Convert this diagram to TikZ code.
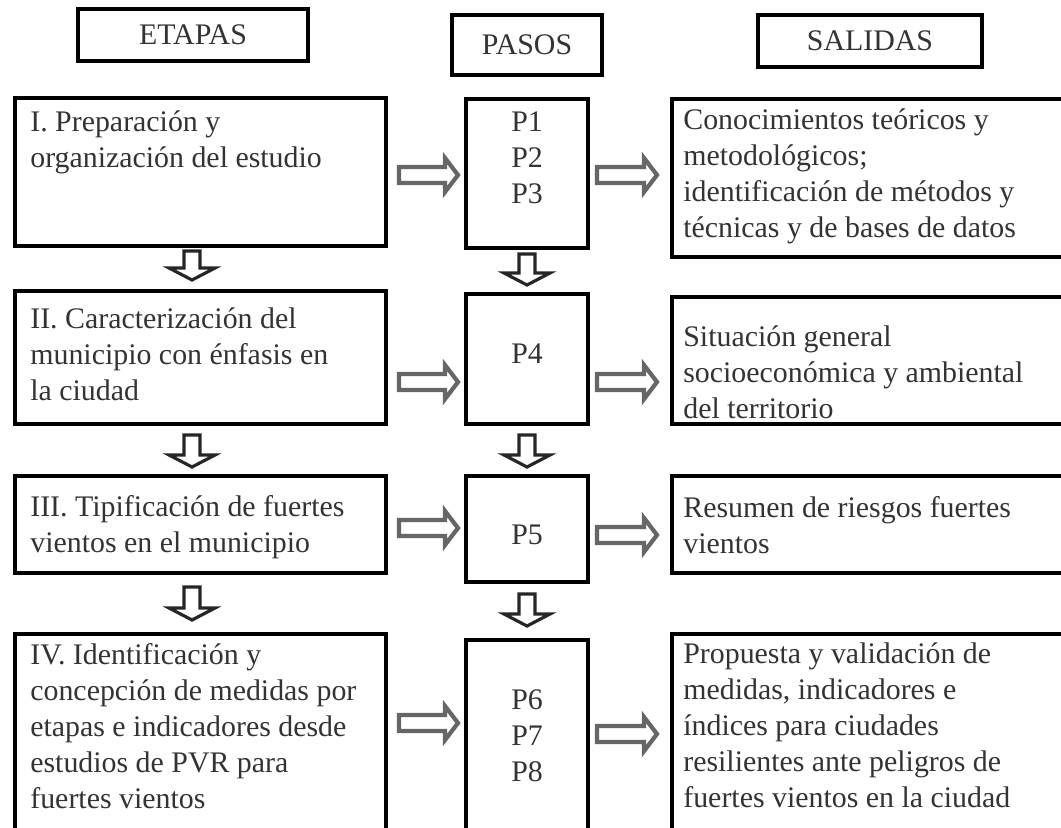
\documentclass[tikz,border=0pt]{standalone}
\usepackage{fontspec}
\setmainfont{Liberation Serif}
\usetikzlibrary{calc}

\newcommand{\letra}{\fontsize{17pt}{20.5pt}\selectfont}

\tikzset{
  cabecera/.style={draw, line width=2.3pt, inner sep=0pt, font=\letra, text=black!80},
  caja/.style={draw, line width=2.3pt, anchor=north west, inner sep=0pt},
  texto/.style={anchor=north west, align=left, inner sep=0pt, font=\letra, text=black!80},
  paso/.style={anchor=north, align=center, inner sep=0pt, font=\letra, text=black!80},
  derecha/.style={draw=black!60, line width=2.4pt, fill=white, line join=miter,
    to path={let \p1=(\tikztostart), \p2=(\tikztotarget) in
      (\x1,\y1+0.16cm) -- (\x2-0.26cm,\y1+0.16cm) -- (\x2-0.26cm,\y1+0.34cm) -- (\x2,\y1)
      -- (\x2-0.26cm,\y1-0.34cm) -- (\x2-0.26cm,\y1-0.16cm) -- (\x1,\y1-0.16cm) -- cycle}},
  abajo/.style={draw=black!85, line width=1.8pt, fill=white, line join=miter,
    to path={let \p1=(\tikztostart), \p2=(\tikztotarget) in
      (\x1-0.16cm,\y1) -- (\x1-0.16cm,\y2+0.24cm) -- (\x1-0.46cm,\y2+0.24cm) -- (\x1,\y2)
      -- (\x1+0.46cm,\y2+0.24cm) -- (\x1+0.16cm,\y2+0.24cm) -- (\x1+0.16cm,\y1) -- cycle}}
}

\begin{document}
\begin{tikzpicture}
  \useasboundingbox (0,0) rectangle (21.22,-16.54);
  \clip (0,0) rectangle (21.22,-16.54);

  % cabeceras
  \node[cabecera, minimum width=4.6cm, minimum height=1.04cm] (etapas) at (3.86,-0.70) {ETAPAS};
  \node[cabecera, minimum width=3cm, minimum height=1.2cm] (pasos) at (10.54,-0.90) {PASOS};
  \node[cabecera, minimum width=4.48cm, minimum height=1.04cm] (salidas) at (17.40,-0.82) {SALIDAS};

  % etapas
  \node[caja, minimum width=7.42cm, minimum height=2.96cm] (e1) at (0.26,-1.92) {};
  \node[caja, minimum width=7.42cm, minimum height=2.66cm] (e2) at (0.26,-5.78) {};
  \node[caja, minimum width=7.42cm, minimum height=1.94cm] (e3) at (0.26,-9.48) {};
  \node[caja, minimum width=7.42cm, minimum height=5cm] (e4) at (0.26,-12.64) {};
  \node[texto] (te1) at ([shift={(0.34,-0.28)}]e1.north west) {I. Preparación y\\organización del estudio};
  \node[texto] (te2) at ([shift={(0.34,-0.36)}]e2.north west) {II. Caracterización del\\municipio con énfasis en\\la ciudad};
  \node[texto] (te3) at ([shift={(0.34,-0.42)}]e3.north west) {III. Tipificación de fuertes\\vientos en el municipio};
  \node[texto] (te4) at ([shift={(0.34,-0.22)}]e4.north west) {IV. Identificación y\\concepción de medidas por\\etapas e indicadores desde\\estudios de PVR para\\fuertes vientos};

  % pasos
  \node[caja, minimum width=2.44cm, minimum height=2.98cm] (p1) at (9.28,-1.94) {};
  \node[caja, minimum width=2.44cm, minimum height=2.6cm] (p2) at (9.28,-5.84) {};
  \node[caja, minimum width=2.44cm, minimum height=2.12cm] (p3) at (9.28,-9.48) {};
  \node[caja, minimum width=2.44cm, minimum height=5cm] (p4) at (9.28,-12.76) {};
  \node[paso] (tp1) at ([yshift=-0.28cm]p1.north) {P1\\P2\\P3};
  \node[paso] (tp2) at ([yshift=-1.02cm]p2.north) {P4};
  \node[paso] (tp3) at ([yshift=-1.02cm]p3.north) {P5};
  \node[paso] (tp4) at ([yshift=-1.02cm]p4.north) {P6\\P7\\P8};

  % salidas
  \node[caja, minimum width=9cm, minimum height=3.16cm] (s1) at (13.40,-1.94) {};
  \node[caja, minimum width=9cm, minimum height=2.54cm] (s2) at (13.40,-5.90) {};
  \node[caja, minimum width=9cm, minimum height=1.94cm] (s3) at (13.40,-9.48) {};
  \node[caja, minimum width=9cm, minimum height=5cm] (s4) at (13.40,-12.64) {};
  \node[texto] (ts1) at ([shift={(0.26,-0.22)}]s1.north west) {Conocimientos teóricos y\\metodológicos;\\identificación de métodos y\\técnicas y de bases de datos};
  \node[texto] (ts2) at ([shift={(0.26,-0.6)}]s2.north west) {Situación general\\socioeconómica y ambiental\\del territorio};
  \node[texto] (ts3) at ([shift={(0.26,-0.44)}]s3.north west) {Resumen de riesgos fuertes\\vientos};
  \node[texto] (ts4) at ([shift={(0.26,-0.2)}]s4.north west) {Propuesta y validación de\\medidas, indicadores e\\índices para ciudades\\resilientes ante peligros de\\fuertes vientos en la ciudad};

  % flechas etapas -> pasos -> salidas
  \draw[derecha] ([xshift=0.22cm,yshift=-1.58cm]e1.north east) to ([xshift=-0.12cm]p1.west);
  \draw[derecha] ([xshift=0.14cm,yshift=-1.56cm]p1.north east) to ([xshift=-0.26cm]s1.west);
  \draw[derecha] ([xshift=0.22cm,yshift=-1.86cm]e2.north east) to ([xshift=-0.12cm]p2.west);
  \draw[derecha] ([xshift=0.14cm,yshift=-1.80cm]p2.north east) to ([xshift=-0.26cm]s2.west);
  \draw[derecha] ([xshift=0.22cm,yshift=-1.08cm]e3.north east) to ([xshift=-0.12cm]p3.west);
  \draw[derecha] ([xshift=0.14cm,yshift=-1.22cm]p3.north east) to ([xshift=-0.26cm]s3.west);
  \draw[derecha] ([xshift=0.22cm,yshift=-1.82cm]e4.north east) to ([xshift=-0.12cm]p4.west);
  \draw[derecha] ([xshift=0.14cm,yshift=-1.92cm]p4.north east) to ([xshift=-0.26cm]s4.west);

  % flechas hacia abajo
  \draw[abajo] ([xshift=-0.17cm,yshift=-0.06cm]e1.south) to ([xshift=-0.17cm,yshift=0.18cm]e2.north);
  \draw[abajo] ([xshift=-0.17cm,yshift=-0.18cm]e2.south) to ([xshift=-0.17cm,yshift=0.14cm]e3.north);
  \draw[abajo] ([xshift=-0.17cm,yshift=-0.24cm]e3.south) to ([xshift=-0.17cm,yshift=0.24cm]e4.north);
  \draw[abajo] ([yshift=-0.08cm]p1.south) to ([yshift=0.14cm]p2.north);
  \draw[abajo] ([yshift=-0.18cm]p2.south) to ([yshift=0.14cm]p3.north);
  \draw[abajo] ([yshift=-0.2cm]p3.south) to ([yshift=0.24cm]p4.north);
\end{tikzpicture}
\end{document}
